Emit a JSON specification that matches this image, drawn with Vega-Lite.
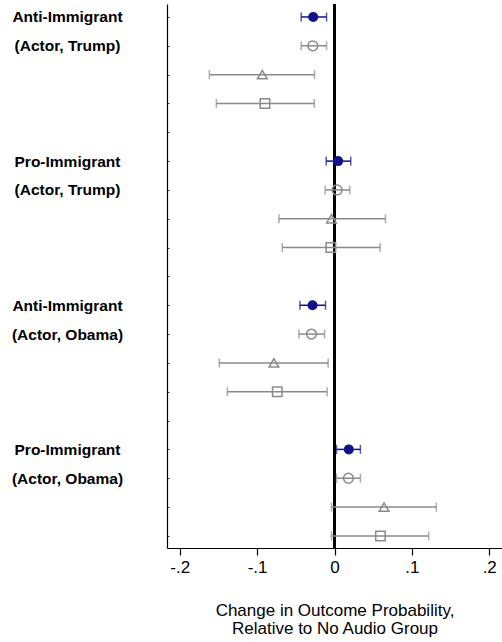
{
  "$schema": "https://vega.github.io/schema/vega-lite/v6.json",
  "autosize": {"type": "none"},
  "padding": {"left": 167, "top": 4, "right": 0, "bottom": 94},
  "width": 335,
  "height": 544,
  "background": "white",
  "config": {
    "view": {"stroke": null},
    "font": "Liberation Sans"
  },
  "data": {
    "values": [
      {"slot": 1, "type": "main", "est": -0.0275, "lo": -0.043, "hi": -0.0103},
      {"slot": 2, "type": "circle", "est": -0.028, "lo": -0.043, "hi": -0.0103},
      {"slot": 3, "type": "triangle", "est": -0.0933, "lo": -0.1617, "hi": -0.0258},
      {"slot": 4, "type": "square", "est": -0.0899, "lo": -0.1527, "hi": -0.0262},
      {"slot": 6, "type": "main", "est": 0.0047, "lo": -0.0107, "hi": 0.021},
      {"slot": 7, "type": "circle", "est": 0.0034, "lo": -0.012, "hi": 0.0198},
      {"slot": 8, "type": "triangle", "est": -0.0039, "lo": -0.0718, "hi": 0.0658},
      {"slot": 9, "type": "square", "est": -0.0047, "lo": -0.0675, "hi": 0.059},
      {"slot": 11, "type": "main", "est": -0.0284, "lo": -0.0447, "hi": -0.0116},
      {"slot": 12, "type": "circle", "est": -0.0297, "lo": -0.046, "hi": -0.0129},
      {"slot": 13, "type": "triangle", "est": -0.0783, "lo": -0.1488, "hi": -0.0082},
      {"slot": 14, "type": "square", "est": -0.074, "lo": -0.1385, "hi": -0.0095},
      {"slot": 16, "type": "main", "est": 0.0185, "lo": 0.0026, "hi": 0.0335},
      {"slot": 17, "type": "circle", "est": 0.018, "lo": 0.0026, "hi": 0.0335},
      {"slot": 18, "type": "triangle", "est": 0.0641, "lo": -0.0039, "hi": 0.1316},
      {"slot": 19, "type": "square", "est": 0.0594, "lo": -0.0039, "hi": 0.1217}
    ]
  },
  "encoding": {
    "y": {
      "field": "slot",
      "type": "quantitative",
      "scale": {"domain": [0.55, 19.42], "reverse": true, "nice": false, "zero": false},
      "axis": {
        "title": null,
        "grid": false,
        "values": [1,2,3,4,5,6,7,8,9,10,11,12,13,14,15,16,17,18,19],
        "labelExpr": "datum.value == 1 || datum.value == 11 ? 'Anti-Immigrant' : datum.value == 6 || datum.value == 16 ? 'Pro-Immigrant' : datum.value == 2 || datum.value == 7 ? '(Actor, Trump)' : datum.value == 12 || datum.value == 17 ? '(Actor, Obama)' : ''",
        "labelFont": "Liberation Sans",
        "labelFontWeight": "bold",
        "labelFontSize": 15.5,
        "labelColor": "black",
        "labelPadding": 102,
        "labelAlign": "center",
        "labelBaseline": "middle",
        "labelLimit": 200,
        "tickSize": -2,
        "tickColor": "#333333",
        "domainColor": "black",
        "domainWidth": 1.2
      }
    }
  },
  "layer": [
    {
      "mark": {"type": "rule", "color": "black", "strokeWidth": 1.6},
      "encoding": {"x": {"datum": 0, "type": "quantitative"}, "y": null}
    },
    {
      "mark": {"type": "rule", "strokeWidth": 1.5},
      "encoding": {
        "x": {
          "field": "lo",
          "type": "quantitative",
          "scale": {"domain": [-0.2165, 0.2165], "nice": false, "zero": false},
          "axis": {
            "title": ["Change in Outcome Probability,", "Relative to No Audio Group"],
            "titleFont": "Liberation Sans",
            "titleFontSize": 17,
            "titleFontWeight": "normal",
            "titleColor": "black",
            "titlePadding": 27,
            "titleLineHeight": 18,
            "grid": false,
            "values": [-0.2, -0.1, 0, 0.1, 0.2],
            "labelExpr": "datum.value < -0.15 ? '-.2' : datum.value < -0.05 ? '-.1' : datum.value < 0.05 ? '0' : datum.value < 0.15 ? '.1' : '.2'",
            "labelFont": "Liberation Sans",
            "labelFontSize": 17,
            "labelColor": "black",
            "labelPadding": 4,
            "tickSize": 7,
            "tickColor": "black",
            "tickWidth": 1.2,
            "domainColor": "black",
            "domainWidth": 1.2
          }
        },
        "x2": {"field": "hi"},
        "color": {
          "field": "type",
          "type": "nominal",
          "scale": {"domain": ["main", "circle", "triangle", "square"], "range": ["#12128a", "#8a8a8a", "#8a8a8a", "#8a8a8a"]},
          "legend": null
        }
      }
    },
    {
      "mark": {"type": "tick", "orient": "vertical", "size": 9, "thickness": 1.5},
      "encoding": {
        "x": {"field": "lo", "type": "quantitative"},
        "color": {"field": "type", "type": "nominal", "legend": null}
      }
    },
    {
      "mark": {"type": "tick", "orient": "vertical", "size": 9, "thickness": 1.5},
      "encoding": {
        "x": {"field": "hi", "type": "quantitative"},
        "color": {"field": "type", "type": "nominal", "legend": null}
      }
    },
    {
      "transform": [{"filter": "datum.type === 'main'"}],
      "mark": {"type": "point", "filled": true, "opacity": 1, "shape": "circle", "size": 100},
      "encoding": {
        "x": {"field": "est", "type": "quantitative"},
        "color": {"field": "type", "type": "nominal", "legend": null}
      }
    },
    {
      "transform": [{"filter": "datum.type !== 'main'"}],
      "mark": {"type": "point", "filled": false, "opacity": 1, "strokeWidth": 1.5},
      "encoding": {
        "x": {"field": "est", "type": "quantitative"},
        "color": {"field": "type", "type": "nominal", "legend": null},
        "shape": {
          "field": "type",
          "type": "nominal",
          "scale": {"domain": ["main", "circle", "triangle", "square"], "range": ["circle", "circle", "triangle-up", "square"]},
          "legend": null
        },
        "size": {
          "field": "type",
          "type": "nominal",
          "scale": {"domain": ["main", "circle", "triangle", "square"], "range": [100, 90, 110, 70]},
          "legend": null
        }
      }
    }
  ]
}
